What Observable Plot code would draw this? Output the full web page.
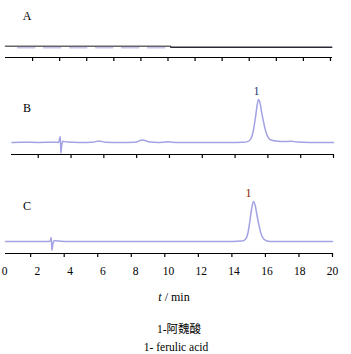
<!DOCTYPE html>
<html><head><meta charset="utf-8">
<script src="https://cdn.jsdelivr.net/npm/d3@7"></script>
<script src="https://cdn.jsdelivr.net/npm/@observablehq/plot@0.6"></script>
<style>
body{margin:0;background:#fff;}
#wrap{position:relative;width:351px;height:354px;font-family:"Liberation Serif","DejaVu Serif",serif;color:#000;}
#stack svg{display:block;overflow:visible;}
.lab{position:absolute;font-size:12px;line-height:1;white-space:nowrap;transform:translate(-50%,-50%);}
</style></head>
<body><div id="wrap"><div id="stack"></div></div>
<script>
// ---- data ----
const panelLetters = ["A", "B", "C"];
const tickLabels = [0, 2, 4, 6, 8, 10, 12, 14, 16, 18, 20];
const ticksA = [2, 4, 6, 8, 10, 12, 14, 16, 18, 20, 22, 24];
const ticksBC = [2, 4, 6, 8, 10, 12, 14, 16, 18, 20];
// Panel A: flat trace (two segments)
const aLeftT = [0, 12.2], aLeftY = [6.6, 6.6];
const aRightT = [12.2, 24.1], aRightY = [6.0, 6.0];
const aGhostT = [0.9, 12.0], aGhostY = [5.8, 5.8];
// Panel B trace
const bT = [0.4,1,2,3,3.25,3.3,3.35,3.38,3.42,3.5,3.6,3.8,4.5,5.3,5.7,6.1,7,7.9,8.35,8.8,9.3,9.9,10.5,12,13.5,14.5,14.75,14.95,15.1,15.25,15.35,15.43,15.52,15.62,15.75,15.9,16.05,16.25,16.6,17,17.4,17.8,18.5,19.5,20];
const bY = [0,0.5,0,0.5,0,8,14,-25,-10,3,2,1,0,0.5,3.5,0.5,0,0.5,6,1,0,1.5,0,0,0,0.5,2,8,25,60,88,100,92,70,45,22,10,5,3,2,3,1,0,0,0];
// Panel C trace
const cT = [0.5,1.5,2.5,3.1,3.18,3.23,3.27,3.32,3.4,3.5,3.65,4,6,9,12,14,14.6,14.8,14.95,15.07,15.17,15.29,15.4,15.5,15.62,15.75,15.9,16.1,16.4,18,20];
const cY = [0,0,0,0,3,10,-22,-8,2,2,1,0,0,0,0,0,1,5,20,50,80,100,88,65,40,18,6,1.5,0,0,0];
const peakLabel = "1";
const xLabel = "min";
const caption1 = "1-阿魏酸";
const caption2 = "1- ferulic acid";

const traceColor = "#a2a2e4";
const font = "Liberation Serif";
const wrap = document.getElementById("wrap");
const stack = document.getElementById("stack");
const zip = (T, Y) => T.map((t, i) => ({t, y: Y[i]}));

function label(text, x, y, extra) {
  const d = document.createElement("div");
  d.className = "lab"; d.style.left = x + "px"; d.style.top = y + "px";
  d.innerHTML = text; if (extra) Object.assign(d.style, extra);
  wrap.appendChild(d);
}
// axis baseline + downward ticks (tick length in y units = 4px)
function axisMarks(ticks, yAxis, tickLen) {
  return [
    Plot.ruleY([yAxis], {stroke: "black", strokeWidth: 1.1}),
    Plot.ruleX(ticks, {x: d => d, y1: yAxis, y2: yAxis - tickLen, stroke: "black", strokeWidth: 1.2})
  ];
}
const baseStyle = {fontFamily: font, overflow: "visible", background: "none"};

// Panel A (page y 0-62)
stack.appendChild(Plot.plot({
  width: 351, height: 62, marginLeft: 5, marginRight: 19, marginTop: 40, marginBottom: 1,
  style: baseStyle,
  x: {domain: [0, 24.15], axis: null}, y: {domain: [-2.35, 10], axis: null},
  marks: [
    ...axisMarks(ticksA, 0, 2.35),
    Plot.lineY(zip(aGhostT, aGhostY), {x: "t", y: "y", stroke: "#c4c4ee", strokeWidth: 1.5, strokeDasharray: "17,9"}),
    Plot.lineY(zip(aLeftT, aLeftY), {x: "t", y: "y", stroke: "#666", strokeWidth: 1.6}),
    Plot.lineY(zip(aRightT, aRightY), {x: "t", y: "y", stroke: "#2a2a36", strokeWidth: 1.4})
  ]
}));

// Panel B (page y 62-170)
stack.appendChild(Plot.plot({
  width: 351, height: 108, marginLeft: 11, marginRight: 18, marginTop: 37, marginBottom: 12,
  style: baseStyle,
  x: {domain: [0.37, 20], axis: null}, y: {domain: [-37.3, 100], axis: null},
  marks: [
    ...axisMarks(ticksBC, -28, 9.3),
    Plot.lineY(zip(bT, bY), {x: "t", y: "y", stroke: traceColor, strokeWidth: 1.5, curve: "monotone-x"}),
    Plot.text([{t: 15.43, y: 100}], {x: "t", y: "y", text: () => peakLabel, dx: -2, dy: -8, fontSize: 12, fill: "#1f3670"})
  ]
}));

// Panel C (page y 170-259)
stack.appendChild(Plot.plot({
  width: 351, height: 89, marginLeft: 5, marginRight: 19, marginTop: 31, marginBottom: 2,
  style: baseStyle,
  x: {domain: [0.5, 20], axis: null}, y: {domain: [-40, 100], axis: null},
  marks: [
    ...axisMarks(ticksBC, -30, 10),
    Plot.lineY(zip(cT, cY), {x: "t", y: "y", stroke: traceColor, strokeWidth: 1.5, curve: "monotone-x"}),
    Plot.text([{t: 15.29, y: 100}], {x: "t", y: "y", text: () => peakLabel, dx: -5, dy: -8, fontSize: 12, fill: "#8a1c00"})
  ]
}));

// Tick labels (page y 259-283)
stack.appendChild(Plot.plot({
  width: 351, height: 24, marginLeft: 4, marginRight: 19, marginTop: 0, marginBottom: 0,
  style: baseStyle,
  x: {domain: [0, 20], axis: null},
  marks: [
    Plot.text(tickLabels, {x: d => d, frameAnchor: "middle", text: d => String(d), fontSize: 11.5, fill: "#000"})
  ]
}));

label(panelLetters[0], 27, 16);
label(panelLetters[1], 27, 108);
label(panelLetters[2], 27, 206);
label('<i>t</i> / ' + xLabel, 174, 297, {fontSize: "12px"});
label(caption1, 179, 330, {fontSize: "11.5px", fontFamily: '"Liberation Serif","Noto Sans CJK SC",serif'});
label(caption2, 176, 348, {fontSize: "11.5px"});
</script></body></html>
